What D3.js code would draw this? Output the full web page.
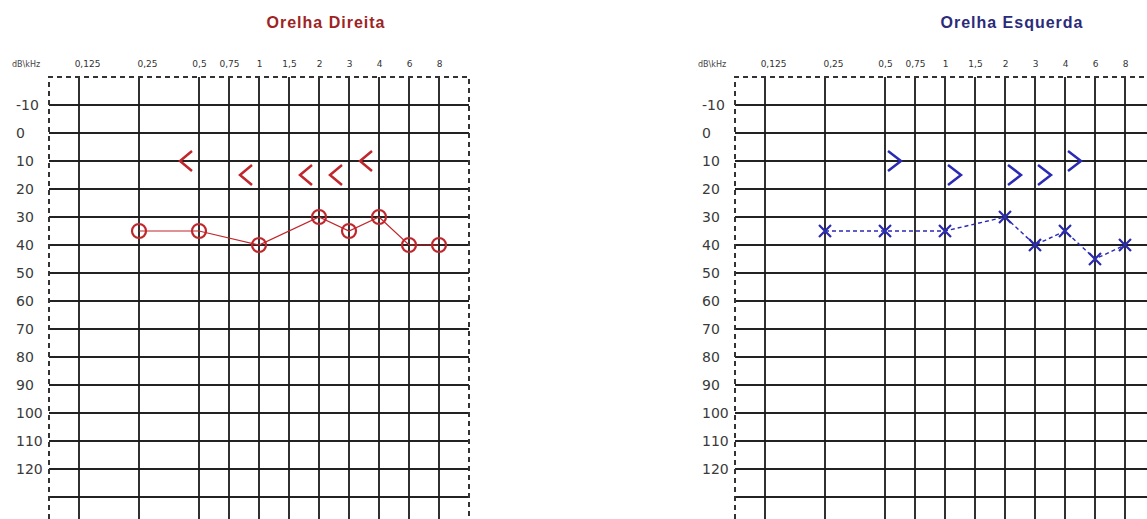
<!doctype html>
<html>
  <head>
    <meta charset="utf-8">
    <script src="https://cdn.jsdelivr.net/npm/d3@7/dist/d3.min.js"></script>
    <style>
      body { margin: 0; background: #fff; }
      svg { display: block; }
    </style>
  </head>
  <body>
    <div id="my_dataviz"></div>
    <script>
      // frequencies (kHz) and their labels on the top axis
      var freqs = [0.125, 0.25, 0.5, 0.75, 1, 1.5, 2, 3, 4, 6, 8];
      var freqLabels = ["0,125", "0,25", "0,5", "0,75", "1", "1,5", "2", "3", "4", "6", "8"];
      var octaves = [0.125, 0.25, 0.5, 1, 2, 4, 8];
      var dbTicks = [-10, 0, 10, 20, 30, 40, 50, 60, 70, 80, 90, 100, 110, 120];
      var dbLines = [-10, 0, 10, 20, 30, 40, 50, 60, 70, 80, 90, 100, 110, 120, 130];

      // right ear (red)
      var rightAirFreq = [0.25, 0.5, 1, 2, 3, 4, 6, 8];
      var rightAir = [35, 35, 40, 30, 35, 30, 40, 40];
      var rightBoneFreq = [0.5, 1, 2, 3, 4];
      var rightBone = [10, 15, 15, 15, 10];

      // left ear (blue)
      var leftAirFreq = [0.25, 0.5, 1, 2, 3, 4, 6, 8];
      var leftAir = [35, 35, 35, 30, 40, 35, 45, 40];
      var leftBoneFreq = [0.5, 1, 2, 3, 4];
      var leftBone = [10, 15, 15, 15, 10];

      var W = 1147, H = 519;
      var width = 420;

      var svg = d3.select("#my_dataviz")
        .append("svg")
        .attr("width", W)
        .attr("height", H);

      // x: two units per octave, inter-octave frequencies halfway
      var x = d3.scaleLinear()
        .domain(octaves)
        .range(octaves.map(function(d, i) { return 30 + i * 60; }));

      // y: 28px per 10 dB
      var y = d3.scaleLinear().domain([-20, 140]).range([77, 525]);

      function zip(fs, vs) {
        return fs.map(function(f, i) { return {f: f, db: vs[i]}; });
      }

      function panel(left, title, titleColor, color, air, bone, isRight) {
        var g = svg.append("g").attr("transform", "translate(" + left + ",0)");

        // title
        g.append("text")
          .attr("x", 277)
          .attr("y", 28)
          .attr("text-anchor", "middle")
          .attr("font-family", "Liberation Sans, Arial, sans-serif")
          .attr("font-weight", "bold")
          .attr("font-size", 16)
          .attr("letter-spacing", 1)
          .attr("fill", titleColor)
          .text(title);

        // unit label
        g.append("text")
          .attr("x", -37)
          .attr("y", 67)
          .attr("font-family", "DejaVu Sans, sans-serif")
          .attr("font-size", 8)
          .attr("fill", "#444")
          .text("dB\\kHz");

        // top axis with frequency labels
        var xAxis = d3.axisTop(x)
          .tickValues(freqs)
          .tickFormat(function(d, i) { return freqLabels[i]; })
          .tickSize(0)
          .tickPadding(0);
        var gx = g.append("g")
          .attr("transform", "translate(0,67)")
          .call(xAxis);
        gx.select(".domain").remove();
        gx.selectAll("text")
          .attr("font-family", "DejaVu Sans, sans-serif")
          .attr("font-size", 9)
          .attr("fill", "#333")
          .attr("dy", 0)
          .attr("dx", function(d) { return d < 0.5 ? 8 : 0; });

        // left axis with dB labels
        var yAxis = d3.axisLeft(y)
          .tickValues(dbTicks)
          .tickFormat(function(d) { return String(d); })
          .tickSize(0)
          .tickPadding(0);
        var gy = g.append("g").call(yAxis);
        gy.select(".domain").remove();
        gy.selectAll("text")
          .attr("text-anchor", "start")
          .attr("x", -33)
          .attr("font-family", "DejaVu Sans, sans-serif")
          .attr("font-size", 14)
          .attr("fill", "#3a3a3a");

        // grid
        g.selectAll(".hline")
          .data(dbLines)
          .enter().append("line")
          .attr("class", "hline")
          .attr("x1", 0).attr("x2", width)
          .attr("y1", function(d) { return y(d); })
          .attr("y2", function(d) { return y(d); })
          .attr("stroke", "#222")
          .attr("stroke-width", 2);

        g.selectAll(".vline")
          .data(freqs)
          .enter().append("line")
          .attr("class", "vline")
          .attr("x1", function(d) { return x(d); })
          .attr("x2", function(d) { return x(d); })
          .attr("y1", y(-20)).attr("y2", H)
          .attr("stroke", "#1a1a1a")
          .attr("stroke-width", 1.8);

        // dashed border
        g.append("path")
          .attr("d", "M0," + H + "V" + y(-20) + "H" + width + "V" + H)
          .attr("fill", "none")
          .attr("stroke", "#333")
          .attr("stroke-width", 2)
          .attr("stroke-dasharray", "5,4");

        var airData = zip(air.f, air.v);
        var boneData = zip(bone.f, bone.v);

        // air conduction line
        g.append("path")
          .datum(airData)
          .attr("fill", "none")
          .attr("stroke", color)
          .attr("stroke-width", isRight ? 1.2 : 1.4)
          .attr("stroke-dasharray", isRight ? null : "4,3")
          .attr("d", d3.line()
            .x(function(d) { return x(d.f); })
            .y(function(d) { return y(d.db); }));

        // air conduction symbols
        if (isRight) {
          g.selectAll(".air")
            .data(airData)
            .enter().append("circle")
            .attr("cx", function(d) { return x(d.f); })
            .attr("cy", function(d) { return y(d.db); })
            .attr("r", 7)
            .attr("fill", "none")
            .attr("stroke", color)
            .attr("stroke-width", 2.2);
        } else {
          g.selectAll(".air")
            .data(airData)
            .enter().append("path")
            .attr("d", function(d) {
              var cx = x(d.f), cy = y(d.db), s = 6;
              return "M" + (cx - s) + "," + (cy - s) + "L" + (cx + s) + "," + (cy + s) +
                "M" + (cx + s) + "," + (cy - s) + "L" + (cx - s) + "," + (cy + s);
            })
            .attr("fill", "none")
            .attr("stroke", color)
            .attr("stroke-width", 2.2);
        }

        // bone conduction symbols: < for right ear, > for left ear
        g.selectAll(".bone")
          .data(boneData)
          .enter().append("path")
          .attr("d", function(d) {
            var fx = x(d.f), cy = y(d.db);
            if (isRight) {
              return "M" + (fx - 7) + "," + (cy - 10) + "L" + (fx - 19) + "," + cy + "L" + (fx - 7) + "," + (cy + 10);
            }
            return "M" + (fx + 3) + "," + (cy - 10) + "L" + (fx + 16) + "," + cy + "L" + (fx + 3) + "," + (cy + 10);
          })
          .attr("fill", "none")
          .attr("stroke", color)
          .attr("stroke-width", 2.5);
      }

      panel(49, "Orelha Direita", "#9e2424", "#c0262b",
        {f: rightAirFreq, v: rightAir}, {f: rightBoneFreq, v: rightBone}, true);
      panel(735, "Orelha Esquerda", "#2b2b7a", "#2a2ab4",
        {f: leftAirFreq, v: leftAir}, {f: leftBoneFreq, v: leftBone}, false);
    </script>
  </body>
</html>
